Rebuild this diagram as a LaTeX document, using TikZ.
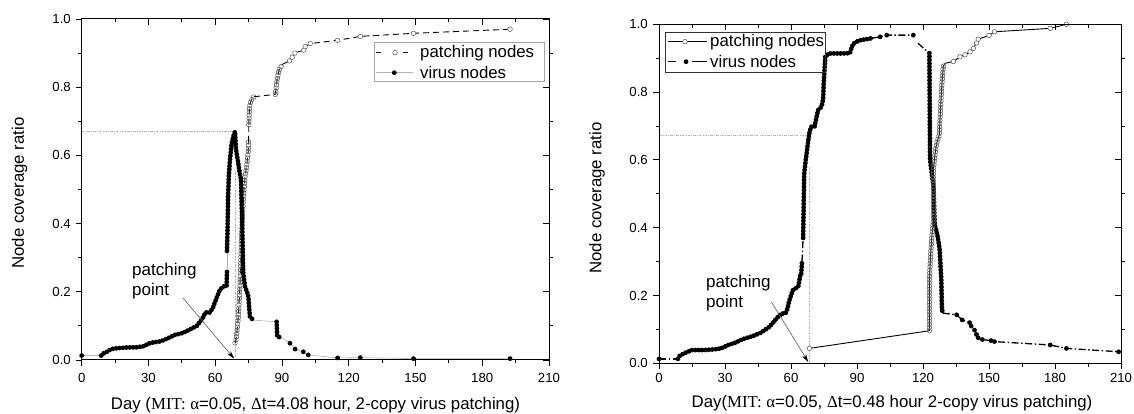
\documentclass[tikz,border=0pt]{standalone}
\usepackage{fontspec}
\setmainfont{Liberation Sans}
\newfontfamily\serifx{Liberation Serif}
\usetikzlibrary{arrows.meta,decorations.markings}
\begin{document}
\begin{tikzpicture}[x=1pt,y=1pt,
  ticklab/.style={font=\fontsize{13.2}{15}\selectfont, inner sep=0pt},
  axlab/.style={font=\fontsize{16.8}{20}\selectfont, inner sep=0pt},
  leglab/.style={font=\fontsize{16.8}{20}\selectfont, inner sep=0pt, anchor=west},
  frame/.style={line width=1pt, black},
  tickl/.style={line width=0.8pt, black},
  guide/.style={gray!60, line width=0.7pt, dash pattern=on 2.5pt off 1.2pt on 0.8pt off 1.2pt},
  lvline/.style={gray!60, line width=0.6pt},
  lpline/.style={black, line width=0.9pt, dash pattern=on 6pt off 4pt},
  rvline/.style={black, line width=1.3pt, dash pattern=on 7pt off 2.5pt on 1.5pt off 2.5pt},
  rpline/.style={black, line width=0.9pt},
  vmarks/.style={decorate,decoration={markings,mark=between positions 0 and 1 step 3.4pt with {\fill[black] (0,0) circle (2.4pt);}}},
  pmarks/.style={decorate,decoration={markings,mark=between positions 0 and 1 step 3.2pt with {\draw[solid,gray!75!black,line width=0.55pt] (0,0) circle (2.3pt);}}},
  vdot/.style={fill=black},
  pcirc/.style={draw=gray!75!black, fill=white, line width=0.55pt, solid},
  parrow/.style={gray!70!black, line width=0.6pt, -{Stealth[length=8pt,width=4.5pt,black]}},
  legbox/.style={draw=gray!70, line width=0.8pt},
  pplab/.style={font=\fontsize{17}{20}\selectfont, inner sep=0pt, align=left, anchor=west}
]
\useasboundingbox (0,0) rectangle (1134,414);

%================ LEFT PLOT =================
\begin{scope}[shift={(81.7,54)}, x=2.2252pt, y=341pt]
  % guides
  \draw[guide] (0,0.67) -- (69,0.67);
  \draw[guide] (69,0.55) -- (69,0);
  % ---- patching nodes (open circles, dashed) ----
  \draw[lpline, postaction={pmarks}] (68.9,0.05) -- (69.4,0.06) -- (70.4,0.127) -- (71.1,0.215) -- (71.9,0.37) -- (72.6,0.469) -- (73.4,0.537) -- (74.1,0.567) -- (74.9,0.616) -- (75,0.64);
  \draw[lpline] (75,0.64) -- (75.1,0.69);
  \draw[lpline, postaction={pmarks}] (75.1,0.69) -- (75.4,0.74) -- (76,0.76) -- (77.4,0.772);
  \draw[lpline] (77.4,0.772) -- (87,0.779);
  \draw[lpline, postaction={pmarks}] (87,0.779) -- (87.8,0.82) -- (88.6,0.85) -- (90.2,0.867);
  \draw[lpline] (90.2,0.867) -- (93.4,0.877) -- (94.6,0.888) -- (95.8,0.9) -- (99.8,0.909) -- (100.4,0.919) -- (102.7,0.928) -- (115,0.9375) -- (125.2,0.949) -- (149.1,0.958) -- (192.5,0.97);
  \foreach \p in {(93.4,0.877),(94.6,0.888),(95.8,0.9),(99.8,0.909),(100.4,0.919),(102.7,0.928),(115,0.9375),(125.2,0.949),(149.1,0.958),(192.5,0.97)}
    \draw[pcirc] \p circle (2.3pt);
  % ---- virus nodes (filled dots, thin gray) ----
  \draw[lvline] (0,0.013) -- (8.8,0.013);
  \fill[vdot] (0,0.013) circle (2.4pt);
  \draw[lvline, postaction={vmarks}] (8.8,0.013) -- (10,0.02) -- (11.6,0.025) -- (13.2,0.032) -- (16.4,0.035) -- (21.2,0.037) -- (24.4,0.037) -- (27.6,0.04) -- (30.8,0.05) -- (35.6,0.055) -- (38.8,0.064) -- (42,0.074) -- (45.3,0.079) -- (48.5,0.089) -- (51.7,0.1) -- (54.1,0.12) -- (55.7,0.14) -- (57.3,0.138) -- (58.9,0.152) -- (60.5,0.18) -- (62.1,0.206) -- (63.7,0.216) -- (65.1,0.216) -- (65.3,0.264);
  \draw[lvline] (65.3,0.264) -- (65.3,0.32);
  \draw[lvline, postaction={vmarks}] (65.3,0.32) -- (65.6,0.40) -- (65.8,0.48) -- (66.1,0.537) -- (66.6,0.586) -- (67.4,0.635) -- (68.1,0.655) -- (68.9,0.67) -- (69.3,0.62) -- (69.9,0.596) -- (70.8,0.557) -- (71.6,0.528) -- (71.9,0.45) -- (72.2,0.37) -- (72.6,0.254) -- (73.4,0.215) -- (74.3,0.2) -- (74.9,0.186) -- (75.3,0.15) -- (75.6,0.127) -- (77.1,0.117);
  \draw[lvline] (77.1,0.117) -- (87.6,0.112);
  \draw[lvline, postaction={vmarks}] (87.6,0.112) -- (87.9,0.068) -- (89.8,0.066);
  \draw[lvline] (89.8,0.066) -- (93.6,0.049) -- (95.9,0.032) -- (99.6,0.024) -- (101.8,0.015) -- (115,0.006) -- (125.2,0.007) -- (149.1,0.004) -- (192.5,0.004);
  \foreach \p in {(93.6,0.049),(95.9,0.032),(99.6,0.024),(101.8,0.015),(115,0.006),(125.2,0.007),(149.1,0.004),(192.5,0.004)}
    \fill[vdot] \p circle (2.4pt);
  % ---- axes ----
  \draw[frame] (0,0) rectangle (210,1);
  \foreach \d in {0,30,...,210} {
    \draw[tickl] (\d,0) -- ++(0,-6pt);
    \draw[tickl] (\d,1) -- ++(0,-6pt);
    \node[ticklab] (Lxt\d) at ([yshift=-18pt]\d,0) {\d};
  }
  \foreach \d in {15,45,...,195} {
    \draw[tickl] (\d,0) -- ++(0,-3.5pt);
    \draw[tickl] (\d,1) -- ++(0,-3.5pt);
  }
  \foreach \v/\t [count=\i] in {0/0.0,0.2/0.2,0.4/0.4,0.6/0.6,0.8/0.8,1/1.0} {
    \draw[tickl] (0,\v) -- ++(-6pt,0);
    \draw[tickl] (210,\v) -- ++(-6pt,0);
    \node[ticklab, anchor=east] (Lyt\i) at ([xshift=-10.7pt]0,\v) {\t};
  }
  \foreach \v in {0.1,0.3,0.5,0.7,0.9} {
    \draw[tickl] (0,\v) -- ++(-3.5pt,0);
    \draw[tickl] (210,\v) -- ++(3.5pt,0);
  }
  % annotation
  \coordinate (Las) at (45.5,0.182);
  \coordinate (Lae) at (68.5,0.004);
  \draw[parrow] (Las) -- (Lae);
\end{scope}
\node[pplab] (Lpp) at (132,133) {patching\\point};
\node[axlab] (Lxlab) at (315.5,9) {Day ({\serifx MIT:} {\serifx α}=0.05, {\serifx Δ}t=4.08 hour, 2-copy virus patching)};
\node[axlab, rotate=90] (Lylab) at (19.6,221) {Node coverage ratio};
% legend left
\draw[legbox] (374.3,371.3) rectangle (544.3,332.3);
\draw[black, line width=0.9pt] (375.5,361.3) -- (380.5,361.3);
\draw[black, line width=0.9pt] (403.3,361.3) -- (408.3,361.3);
\draw[pcirc] (395,361.3) circle (2.3pt);
\node[leglab] (Lleg1) at (420,361.3) {patching nodes};
\draw[lvline] (375.5,341.3) -- (413.3,341.3);
\fill[vdot] (394.3,341.3) circle (2.4pt);
\node[leglab] (Lleg2) at (420,341.3) {virus nodes};

%================ RIGHT PLOT =================
\begin{scope}[shift={(659,50.7)}, x=2.2pt, y=339pt]
  \draw[guide] (0,0.673) -- (67.7,0.673);
  \draw[guide] (68.3,0.58) -- (68.3,0);
  % ---- virus nodes ----
  \draw[rvline] (0,0.013) -- (8.6,0.013);
  \fill[vdot] (0,0.013) circle (2.4pt);
  \draw[rvline, postaction={vmarks}] (8.6,0.013) -- (9.4,0.022) -- (11.9,0.031) -- (15.1,0.039) -- (20,0.039) -- (25,0.041) -- (28.2,0.044) -- (31.5,0.054) -- (34.8,0.061) -- (38,0.071) -- (42.9,0.081) -- (46.2,0.09) -- (50.3,0.108) -- (53.5,0.133) -- (55.8,0.147) -- (57.5,0.147) -- (58.4,0.162) -- (59.3,0.187) -- (60.9,0.216) -- (63.3,0.226) -- (64.2,0.26) -- (64.6,0.26) -- (65,0.3);
  \draw[rvline] (65,0.3) -- (65.5,0.37);
  \draw[rvline, postaction={vmarks}] (65.5,0.37) -- (65.8,0.48) -- (66,0.56) -- (66.7,0.6) -- (67.5,0.64) -- (68.3,0.678) -- (69.1,0.698) -- (70.7,0.698) -- (71.5,0.723) -- (72.3,0.747) -- (73.9,0.757) -- (74.6,0.78) -- (74.9,0.83) -- (75.3,0.87) -- (75.6,0.905) -- (77.2,0.914) -- (83.8,0.914) -- (86.8,0.915) -- (87.6,0.934) -- (88.7,0.944) -- (89.9,0.949) -- (92,0.954) -- (94.4,0.956) -- (96.7,0.959);
  \draw[rvline] (96.7,0.959) -- (100.5,0.963) -- (103.5,0.968) -- (115.6,0.968);
  \foreach \p in {(100.5,0.963),(103.5,0.968),(115.6,0.968)}
    \fill[vdot] \p circle (2.4pt);
  \draw[rvline] (117.7,0.944) -- (122.9,0.915);
  \draw[rvline, postaction={vmarks}] (122.9,0.915) -- (123.2,0.6) -- (124.8,0.52) -- (125.3,0.41) -- (126.5,0.38) -- (127.5,0.34) -- (128.3,0.25) -- (128.6,0.16) -- (129,0.148);
  \draw[rvline] (129,0.148) -- (135.3,0.143) -- (137.8,0.128) -- (141.2,0.12) -- (141.9,0.11) -- (143.4,0.098) -- (144.3,0.085) -- (145.1,0.075) -- (147,0.07) -- (150.9,0.067) -- (152.5,0.064) -- (177.8,0.054) -- (185.2,0.044) -- (208.9,0.034);
  \foreach \p in {(135.3,0.143),(137.8,0.128),(141.2,0.12),(141.9,0.11),(143.4,0.098),(144.3,0.085),(145.1,0.075),(147,0.07),(150.9,0.067),(152.5,0.064),(177.8,0.054),(185.2,0.044),(208.9,0.034)}
    \fill[vdot] \p circle (2.4pt);
  % ---- patching nodes ----
  \draw[rpline] (68.4,0.044) -- (122.9,0.096);
  \draw[pcirc] (68.4,0.044) circle (2.3pt);
  \draw[rpline, postaction={pmarks}] (122.9,0.096) -- (122.9,0.25) -- (123.5,0.324) -- (124,0.373) -- (124.7,0.423) -- (124.7,0.57) -- (125.5,0.62) -- (126.2,0.649) -- (127.4,0.673) -- (127.7,0.718) -- (128.5,0.816) -- (129.2,0.875) -- (130,0.885);
  \draw[rpline] (130,0.885) -- (133.8,0.89) -- (136.8,0.904) -- (139.1,0.91) -- (141.4,0.919) -- (142.9,0.929) -- (144.3,0.945) -- (145.1,0.956) -- (150,0.967) -- (152.5,0.978) -- (177.8,0.988) -- (185.2,1.0);
  \foreach \p in {(133.8,0.89),(136.8,0.904),(139.1,0.91),(141.4,0.919),(142.9,0.929),(144.3,0.945),(145.1,0.956),(150,0.967),(152.5,0.978),(177.8,0.988),(185.2,1.0)}
    \draw[pcirc] \p circle (2.3pt);
  % ---- axes ----
  \draw[frame] (0,0) rectangle (210,1);
  \foreach \d in {0,30,...,210} {
    \draw[tickl] (\d,0) -- ++(0,-6pt);
    \draw[tickl] (\d,1) -- ++(0,-6pt);
    \node[ticklab] (Rxt\d) at ([yshift=-15pt]\d,0) {\d};
  }
  \foreach \d in {15,45,...,195} {
    \draw[tickl] (\d,0) -- ++(0,-3.5pt);
    \draw[tickl] (\d,1) -- ++(0,-3.5pt);
  }
  \foreach \v/\t [count=\i] in {0/0.0,0.2/0.2,0.4/0.4,0.6/0.6,0.8/0.8,1/1.0} {
    \draw[tickl] (0,\v) -- ++(-6pt,0);
    \draw[tickl] (210,\v) -- ++(-6pt,0);
    \node[ticklab, anchor=east] (Ryt\i) at ([xshift=-11pt]0,\v) {\t};
  }
  \foreach \v in {0.1,0.3,0.5,0.7,0.9} {
    \draw[tickl] (0,\v) -- ++(-3.5pt,0);
    \draw[tickl] (210,\v) -- ++(3.5pt,0);
  }
  \coordinate (Ras) at (51.1,0.181);
  \coordinate (Rae) at (67.8,0.004);
  \draw[parrow] (Ras) -- (Rae);
\end{scope}
\node[pplab] (Rpp) at (706,121) {patching\\point};
\node[axlab] (Rxlab) at (892,10.5) {Day({\serifx MIT:} {\serifx α}=0.05, {\serifx Δ}t=0.48 hour 2-copy virus patching)};
\node[axlab, rotate=90] (Rylab) at (597,216) {Node coverage ratio};
% legend right
\draw[legbox, draw=black!80] (665,381.7) rectangle (825.7,341.3);
\draw[rpline] (668,372.3) -- (707,372.3);
\draw[pcirc] (685,372.3) circle (2.3pt);
\node[leglab] (Rleg1) at (710,372.3) {patching nodes};
\draw[black, line width=1.3pt] (668,352.3) -- (676,352.3);
\draw[black, line width=1.3pt] (692,352.3) -- (707,352.3);
\fill[vdot] (686,352.3) circle (2.4pt);
\node[leglab] (Rleg2) at (710,352.3) {virus nodes};
\end{tikzpicture}
\end{document}
